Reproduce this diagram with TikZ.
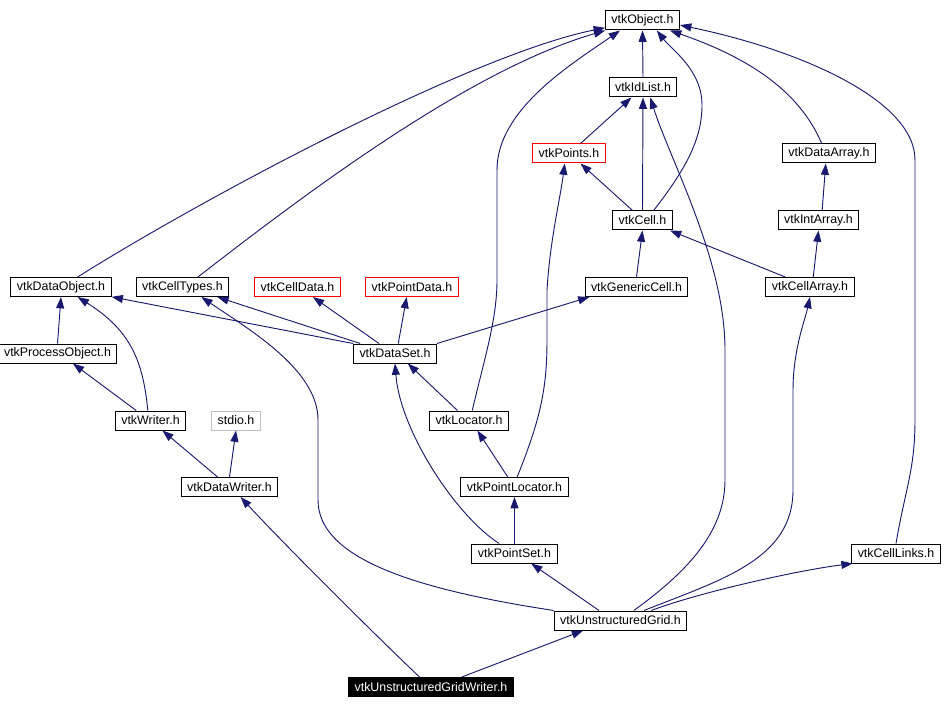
\documentclass[tikz,border=0pt]{standalone}
\usepackage{fontspec}
\setmainfont{Liberation Sans}
\usetikzlibrary{arrows.meta}
\definecolor{edgeblue}{RGB}{25,25,112}
\definecolor{boxgray}{RGB}{191,191,191}

\begin{document}
\begin{tikzpicture}[x=0.75pt,y=-0.75pt,
		hdr/.style={draw=black,line width=0.75pt,fill=white,minimum height=14.25pt,inner xsep=4.5pt,inner ysep=0pt,font=\fontsize{9.3}{11}\selectfont},
		hdrred/.style={hdr,draw=red},
		hdrgray/.style={hdr,draw=boxgray},
		hdrself/.style={hdr,fill=black,text=white},
		inc/.style={draw=edgeblue,line width=0.7pt,-{Triangle[length=8.5pt,width=6pt]}}]
	\useasboundingbox (0,0) rectangle (945,709);
	% header boxes
	\node[hdr] (obj) at (642.5,20.5) {vtkObject.h};
	\node[hdr] (idl) at (643,87.5) {vtkIdList.h};
	\node[hdrred] (pts) at (569,153.5) {vtkPoints.h};
	\node[hdr] (darr) at (829,153.5) {vtkDataArray.h};
	\node[hdr] (cell) at (642.5,220.5) {vtkCell.h};
	\node[hdr] (iarr) at (818.5,220.5) {vtkIntArray.h};
	\node[hdr] (dobj) at (61,287) {vtkDataObject.h};
	\node[hdr] (ctyp) at (182.5,287) {vtkCellTypes.h};
	\node[hdrred] (cdat) at (297.5,287) {vtkCellData.h};
	\node[hdrred] (pdat) at (412,287) {vtkPointData.h};
	\node[hdr] (gcell) at (636.5,287) {vtkGenericCell.h};
	\node[hdr] (carr) at (810,287) {vtkCellArray.h};
	\node[hdr] (pobj) at (57.5,353.5) {vtkProcessObject.h};
	\node[hdr] (dset) at (395,353.5) {vtkDataSet.h};
	\node[hdr] (wrt) at (150.5,420.5) {vtkWriter.h};
	\node[hdrgray] (stdio) at (236,420.5) {stdio.h};
	\node[hdr] (loc) at (469,420.5) {vtkLocator.h};
	\node[hdr] (dwrt) at (229.5,487) {vtkDataWriter.h};
	\node[hdr] (ploc) at (514.5,487) {vtkPointLocator.h};
	\node[hdr] (pset) at (514.5,553.5) {vtkPointSet.h};
	\node[hdr] (clnk) at (896,553.5) {vtkCellLinks.h};
	\node[hdr] (ugrid) at (620.5,620.5) {vtkUnstructuredGrid.h};
	\node[hdrself] (ugw) at (431,687) {vtkUnstructuredGridWriter.h};
	% includes into vtkObject.h
	\draw[inc] (idl.north) -- (obj.south);
	\draw[inc] (dobj.31) .. controls (200,200) and (470,55) .. (obj.191);
	\draw[inc] (ctyp.33) .. controls (310,190) and (470,70) .. (obj.195);
	\draw[inc] (loc.72) .. controls (484,360) and (497,320) .. (497,280) -- (497,170) .. controls (497,110) and (570,65) .. (obj.204);
	\draw[inc] (cell.42) .. controls (685,170) and (702,140) .. (702,105) .. controls (702,70) and (672,50) .. (obj.-35);
	\draw[inc] (darr.126) .. controls (805,105) and (770,65) .. (obj.-20);
	\draw[inc] (clnk.north) .. controls (905,490) and (915,470) .. (915,420) -- (915,160) .. controls (915,100) and (800,50) .. (obj.-7);
	% vtkIdList.h, vtkPoints.h, vtkDataArray.h
	\draw[inc] (pts.41) -- (idl.221);
	\draw[inc] (cell.north) -- (idl.south);
	\draw[inc] (ugrid.37) .. controls (690,570) and (725,530) .. (725,480) -- (725,350) .. controls (725,260) and (670,160) .. (idl.-54);
	\draw[inc] (cell.135) -- (pts.-41);
	\draw[inc] (ploc.75) .. controls (540,420) and (547,390) .. (547,340) -- (547,290) .. controls (550,240) and (560,200) .. (pts.247);
	\draw[inc] (iarr.70) -- (darr.252);
	% vtkCell.h, vtkIntArray.h
	\draw[inc] (gcell.north) -- (cell.south);
	\draw[inc] (carr.158) -- (cell.-20);
	\draw[inc] (carr.72) -- (iarr.south);
	% second row
	\draw[inc] (pobj.north) -- (dobj.south);
	\draw[inc] (wrt.105) .. controls (143,360) and (130,330) .. (dobj.-31);
	\draw[inc] (dset.north west) -- (dobj.-11);
	\draw[inc] (dset.164) -- (ctyp.-16);
	\draw[inc] (ugrid.north west) .. controls (420,590) and (318,560) .. (318,500) -- (318,420) .. controls (318,370) and (250,330) .. (ctyp.-28);
	\draw[inc] (dset.148) -- (cdat.-33);
	\draw[inc] (dset.72) -- (pdat.242);
	\draw[inc] (dset.north east) -- (gcell.192);
	\draw[inc] (ugrid.23) .. controls (720,580) and (793,560) .. (793,490) -- (793,390) .. controls (793,350) and (805,320) .. (carr.south);
	% lower part
	\draw[inc] (wrt.145) -- (pobj.-33);
	\draw[inc] (dwrt.140) -- (wrt.-40);
	\draw[inc] (dwrt.north) -- (stdio.south);
	\draw[inc] (loc.139) -- (dset.-38);
	\draw[inc] (pset.147) .. controls (455,515) and (400,430) .. (dset.south);
	\draw[inc] (ploc.124) -- (loc.-50);
	\draw[inc] (pset.north) -- (ploc.south);
	\draw[inc] (ugrid.155) -- (pset.-31);
	\draw[inc] (ugrid.18) .. controls (700,592) and (800,570) .. (clnk.193);
	\draw[inc] (ugw.139) .. controls (370,630) and (280,540) .. (dwrt.-42);
	\draw[inc] (ugw.18) -- (ugrid.195);
\end{tikzpicture}
\end{document}
